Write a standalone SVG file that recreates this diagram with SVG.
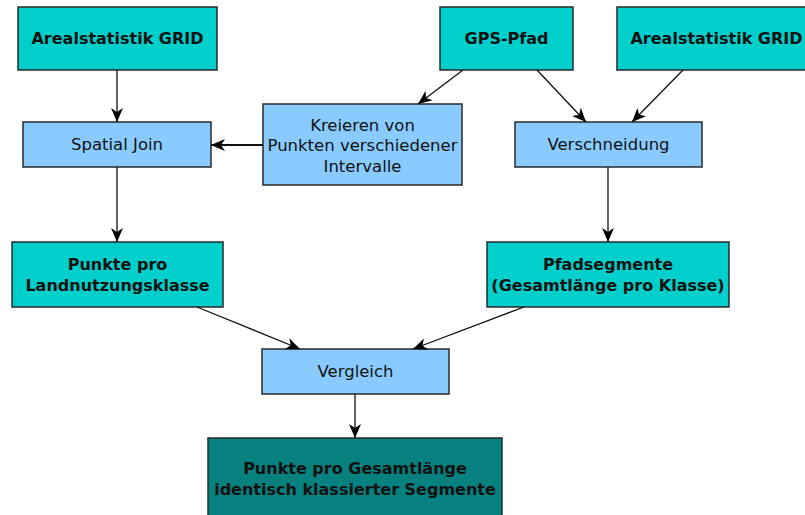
<svg xmlns="http://www.w3.org/2000/svg" width="805" height="515" viewBox="0 0 805 515">
<defs>
<style>
.box{stroke:#2a2a2a;stroke-width:1.5}
.teal{fill:#00cfcc}
.blue{fill:#89cbff}
.dark{fill:#078080}
text{font-family:"DejaVu Sans","Liberation Sans",sans-serif;font-size:16.5px;fill:#111;text-anchor:middle}
.b{font-weight:bold;font-size:16px}
.conn line{stroke:#111;stroke-width:1.3;fill:none}
</style>
<marker id="ah" markerUnits="userSpaceOnUse" markerWidth="15" markerHeight="12" refX="14" refY="6" orient="auto">
<path d="M0,0 L14,6 L0,12 L4,6 Z" fill="#000"/>
</marker>
</defs>
<rect width="805" height="515" fill="#fff"/>
<g id="n1"><rect class="box teal" x="18" y="7" width="199" height="63"/><text class="b" x="117.5" y="44">Arealstatistik GRID</text></g>
<g id="n2"><rect class="box teal" x="440" y="7" width="133" height="63"/><text class="b" x="506.5" y="44">GPS-Pfad</text></g>
<g id="n3"><rect class="box teal" x="617" y="7" width="199" height="63"/><text class="b" x="716.5" y="44">Arealstatistik GRID</text></g>
<g id="n4"><rect class="box blue" x="23" y="122" width="188" height="45"/><text x="117" y="150">Spatial Join</text></g>
<g id="n5"><rect class="box blue" x="263" y="104" width="199" height="81"/><text x="362.5" y="131">Kreieren von</text><text x="362.5" y="151">Punkten verschiedener</text><text x="362.5" y="172">Intervalle</text></g>
<g id="n6"><rect class="box blue" x="515" y="122" width="187" height="45"/><text x="608.5" y="150">Verschneidung</text></g>
<g id="n7"><rect class="box teal" x="12" y="242" width="211" height="65"/><text class="b" x="117.5" y="270">Punkte pro</text><text class="b" x="117.5" y="291">Landnutzungsklasse</text></g>
<g id="n8"><rect class="box teal" x="487" y="242" width="242" height="65"/><text class="b" x="608" y="270">Pfadsegmente</text><text class="b" x="608" y="291">(Gesamtlänge pro Klasse)</text></g>
<g id="n9"><rect class="box blue" x="262" y="349" width="187" height="45"/><text x="355.5" y="377">Vergleich</text></g>
<g id="n10"><rect class="box dark" x="208" y="438" width="294" height="90"/><text class="b" x="355" y="474">Punkte pro Gesamtlänge</text><text class="b" x="355" y="495">identisch klassierter Segmente</text></g>
<g class="conn">
<line x1="117" y1="70" x2="117" y2="122" marker-end="url(#ah)"/>
<line x1="463" y1="70" x2="418" y2="104" marker-end="url(#ah)"/>
<line x1="537" y1="70" x2="586" y2="122" marker-end="url(#ah)"/>
<line x1="683" y1="70" x2="632" y2="122" marker-end="url(#ah)"/>
<line x1="263" y1="145" x2="211" y2="145" style="stroke-width:2.2" marker-end="url(#ah)"/>
<line x1="117" y1="167" x2="117" y2="242" marker-end="url(#ah)"/>
<line x1="608" y1="167" x2="608" y2="242" marker-end="url(#ah)"/>
<line x1="197" y1="307" x2="300" y2="349" marker-end="url(#ah)"/>
<line x1="524" y1="307" x2="413" y2="349" marker-end="url(#ah)"/>
<line x1="355" y1="394" x2="355" y2="438" marker-end="url(#ah)"/>
</g>
</svg>
